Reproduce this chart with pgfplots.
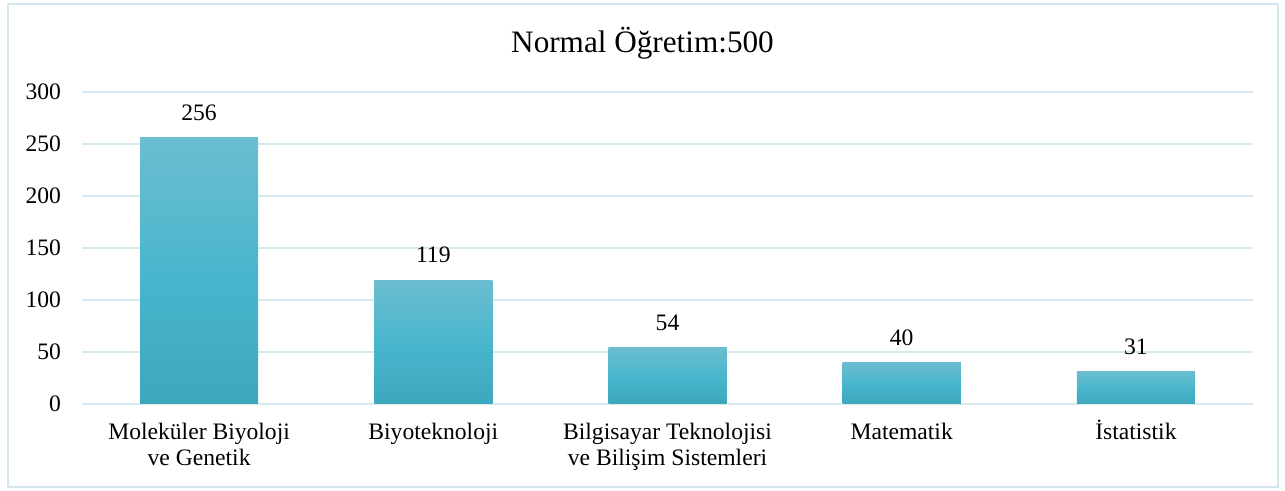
\documentclass[border=0pt]{standalone}
\usepackage{fontspec}
\setmainfont{Liberation Serif}
\usepackage{pgfplots}
\pgfplotsset{compat=1.18}
\definecolor{gridc}{HTML}{D6E9EE}
\definecolor{framec}{HTML}{D3E7EC}
\definecolor{bartop}{HTML}{6BBDD0}
\definecolor{barmid}{HTML}{4AB6CD}
\definecolor{barbot}{HTML}{3CA7BD}
\begin{document}
\begin{tikzpicture}[x=1pt,y=1pt]
\path[use as bounding box] (0,0) rectangle (642.5,245.5);
\draw[framec, line width=1pt] (4,2) rectangle (639,243.5);
\node[font=\fontsize{15.6}{18}\selectfont, anchor=base] at (321.25,219.2) {Normal Öğretim:500};
\begin{axis}[
  at={(41pt,43.5pt)}, anchor=south west,
  scale only axis, width=585.5pt, height=156pt,
  ymin=0, ymax=300, xmin=-0.5, xmax=4.5,
  ytick={0,50,...,300},
  xtick={0,1,2,3,4},
  xticklabels={{Moleküler Biyoloji\\ve Genetik},{Biyoteknoloji},{Bilgisayar Teknolojisi\\ve Bilişim Sistemleri},{Matematik},{\smash{İ}statistik}},
  axis line style={draw=none},
  major tick length=0pt,
  ymajorgrids,
  grid style={gridc, line width=0.9pt},
  /pgf/number format/assume math mode=true,
  ticklabel style={font=\fontsize{11.8}{13}\selectfont},
  yticklabel style={xshift=-7pt},
  xticklabel style={align=center, yshift=-6pt},
  ybar, bar width=59pt, bar shift=0pt,
  nodes near coords,
  every node near coord/.append style={font=\fontsize{11.8}{13}\selectfont, yshift=5pt, text=black},
  every axis plot/.append style={draw=none, top color=bartop, bottom color=barbot, middle color=barmid, bar shift=0pt},
]
\addplot coordinates {(0,256)};
\addplot coordinates {(1,119)};
\addplot coordinates {(2,54)};
\addplot coordinates {(3,40)};
\addplot coordinates {(4,31)};
\end{axis}
\end{tikzpicture}
\end{document}
